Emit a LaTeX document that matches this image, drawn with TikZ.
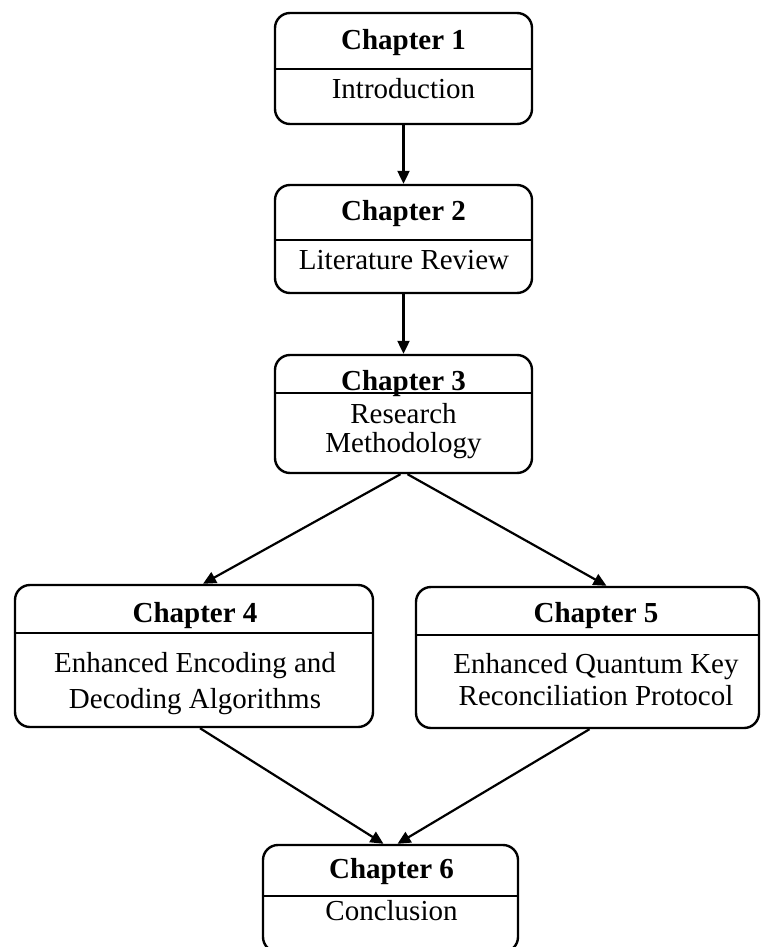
\documentclass[tikz,border=0pt]{standalone}
\usepackage{fontspec}
\setmainfont{Liberation Serif}
\usepackage{tikz}
\usetikzlibrary{arrows.meta}

\tikzset{
  chap/.style={draw,line width=2.4pt,rounded corners=15pt,inner sep=0pt},
  ttl/.style={font=\fontsize{29}{33}\selectfont\bfseries,anchor=base,inner sep=0pt},
  txt/.style={font=\fontsize{29}{#1}\selectfont,anchor=base,align=center,inner sep=0pt},
  txt/.default=33,
  sep/.style={line width=2.4pt},
  flow/.style={line width=2.2pt,-{Triangle[length=13pt,width=12pt]}}
}

\begin{document}
\begin{tikzpicture}[x=1pt,y=-1pt]
  \fill[white] (0,0) rectangle (762,947);
  \useasboundingbox (0,0) rectangle (762,947);

  \node[chap,minimum width=257pt,minimum height=111pt] (c1) at (403.5,68.5) {};
  \draw[sep] (c1.west |- 0,69) -- (c1.east |- 0,69);
  \node[ttl] (t1) at (403.5,50) {Chapter 1};
  \node[txt] (d1) at (403.5,99) {Introduction};

  \node[chap,minimum width=257pt,minimum height=108pt] (c2) at (403.5,239) {};
  \draw[sep] (c2.west |- 0,240) -- (c2.east |- 0,240);
  \node[ttl] (t2) at (403.5,220) {Chapter 2};
  \node[txt] (d2) at (404,269) {Literature Review};

  \node[chap,minimum width=257pt,minimum height=118pt] (c3) at (403.5,414) {};
  \draw[sep] (c3.west |- 0,393) -- (c3.east |- 0,393);
  \node[ttl] (t3) at (403.5,390) {Chapter 3};
  \node[txt=29] (d3) at (403.5,452) {Research\\Methodology};

  \node[chap,minimum width=358pt,minimum height=142pt] (c4) at (194,656) {};
  \draw[sep] (c4.west |- 0,633) -- (c4.east |- 0,633);
  \node[ttl] (t4) at (195,622) {Chapter 4};
  \node[txt=36] (d4) at (195,708) {Enhanced Encoding and\\Decoding Algorithms};

  \node[chap,minimum width=343pt,minimum height=141pt] (c5) at (587.5,657.5) {};
  \draw[sep] (c5.west |- 0,635) -- (c5.east |- 0,635);
  \node[ttl] (t5) at (596,622) {Chapter 5};
  \node[txt=32] (d5) at (596,705) {Enhanced Quantum Key\\Reconciliation Protocol};

  \node[chap,minimum width=255pt,minimum height=107pt] (c6) at (390.5,898.5) {};
  \draw[sep] (c6.west |- 0,896) -- (c6.east |- 0,896);
  \node[ttl] (t6) at (391.5,878) {Chapter 6};
  \node[txt] (d6) at (391.5,920) {Conclusion};

  \draw[flow] (c1.south) -- (c2.north);
  \draw[flow] (c2.south) -- (c3.north);
  \draw[flow] ([xshift=-3pt]c3.south) -- ([xshift=9pt]c4.north);
  \draw[flow] ([xshift=4pt]c3.south) -- ([xshift=19pt]c5.north);
  \draw[flow] ([xshift=6pt]c4.south) -- ([xshift=-7pt]c6.north);
  \draw[flow] ([xshift=2pt]c5.south) -- ([xshift=7pt]c6.north);
\end{tikzpicture}
\end{document}
